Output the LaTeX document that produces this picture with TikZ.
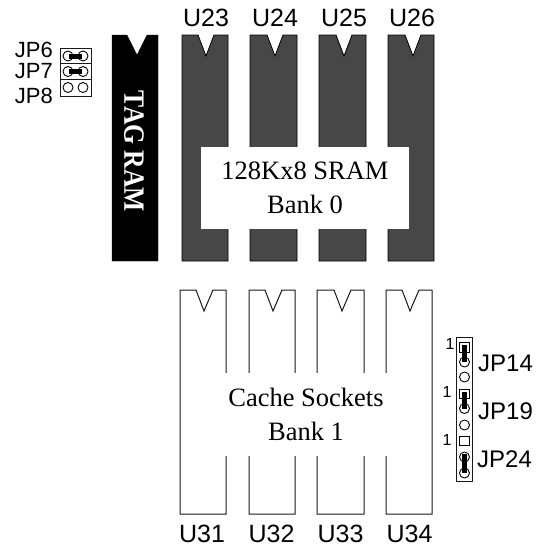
\documentclass[tikz,border=0pt]{standalone}
\usepackage{fontspec}
\setmainfont{Liberation Serif}
\setsansfont{Liberation Sans}
\usepackage{tikz}

\begin{document}
\begin{tikzpicture}[
    x=1pt, y=-1pt,
    blackchip/.style={draw=black, fill=black},
    darkchip/.style={draw=black, line width=0.8pt, fill=black!72},
    whitechip/.style={draw=black!90, line width=1pt, fill=white},
    cover/.style={fill=white, inner sep=0pt, align=center, font=\fontsize{26.5}{33.5}\selectfont},
    pinlabel/.style={font=\sffamily\fontsize{25}{25}\selectfont, inner sep=0pt},
    jplabel/.style={font=\sffamily\fontsize{22}{22}\selectfont, inner sep=0pt},
    onelabel/.style={font=\sffamily\fontsize{16}{16}\selectfont, inner sep=0pt},
    header/.style={draw=black!90, line width=0.8pt, fill=white},
    pin/.style={draw=black, line width=0.9pt, fill=white},
    shunt/.style={draw=black, line width=5pt}
]
    \useasboundingbox (0,0) rectangle (536,550);

    % Top: SRAM bank 0 and tag ram
    \draw[blackchip] (112,35) -- (127,35) -- (137,55) -- (147,35) -- (158,35) -- (158,261) -- (112,261) -- cycle;
    \draw[darkchip] (182,35) -- (198,35) -- (206,56) -- (214,35) -- (228,35) -- (228,261) -- (182,261) -- cycle;
    \draw[darkchip] (250,35) -- (267,35) -- (275,56) -- (283,35) -- (297,35) -- (297,261) -- (250,261) -- cycle;
    \draw[darkchip] (319,35) -- (336,35) -- (344,56) -- (352,35) -- (366,35) -- (366,261) -- (319,261) -- cycle;
    \draw[darkchip] (388,35) -- (405,35) -- (413,56) -- (421,35) -- (434,35) -- (434,261) -- (388,261) -- cycle;

    \node[cover, minimum width=208pt, minimum height=82pt] (bank_zero) at (305,188) {128Kx8 SRAM\\Bank 0};
    \node[rotate=-90, yscale=1.15, text=white, font=\bfseries\fontsize{25.6}{26}\selectfont, inner sep=0pt] (tag_ram) at (134,151.5) {TAG RAM};

    \node[pinlabel] (u23) at (206,18) {U23};
    \node[pinlabel] (u24) at (275,18) {U24};
    \node[pinlabel] (u25) at (344,18) {U25};
    \node[pinlabel] (u26) at (412,18) {U26};

    % Bottom: cache sockets bank 1
    \draw[whitechip] (180,290) -- (196,290) -- (204,311) -- (213,290) -- (226,290) -- (226,514) -- (180,514) -- cycle;
    \draw[whitechip] (249,290) -- (265,290) -- (273,311) -- (282,290) -- (295,290) -- (295,514) -- (249,514) -- cycle;
    \draw[whitechip] (317,290) -- (334,290) -- (342,311) -- (351,290) -- (364,290) -- (364,514) -- (317,514) -- cycle;
    \draw[whitechip] (386,290) -- (402,290) -- (410,311) -- (419,290) -- (432,290) -- (432,514) -- (386,514) -- cycle;

    \node[cover, minimum width=240pt, minimum height=83pt] (bank_one) at (306,414.5) {Cache Sockets\\Bank 1};

    \node[pinlabel] (u31) at (202,534) {U31};
    \node[pinlabel] (u32) at (271.5,534) {U32};
    \node[pinlabel] (u33) at (340.5,534) {U33};
    \node[pinlabel] (u34) at (409.5,534) {U34};

    % Left jumpers
    \node[jplabel, anchor=east] (jp6) at (53,50) {JP6};
    \node[jplabel, anchor=east] (jp7) at (53,71.5) {JP7};
    \node[jplabel, anchor=east] (jp8) at (53,95.5) {JP8};

    \draw[header] (60,48) rectangle (91,96);
    \draw[header] (60,63.5) -- (91,63.5);
    \draw[header] (60,79.5) -- (91,79.5);
    \draw[pin] (68,56) circle (5);
    \draw[pin] (83,56) circle (5);
    \draw[pin] (68,71.5) circle (5);
    \draw[pin] (83,71.5) circle (5);
    \draw[pin] (68,87.5) circle (5);
    \draw[pin] (83,87.5) circle (5);
    \draw[shunt] (69,56) -- (82,56);
    \draw[shunt] (69,71.5) -- (82,71.5);

    % Right jumpers
    \node[onelabel] (one_a) at (450,344) {1};
    \node[onelabel] (one_b) at (447,392) {1};
    \node[onelabel] (one_c) at (447,440) {1};
    \node[pinlabel, font=\sffamily\fontsize{24}{24}\selectfont, anchor=west] (jp14) at (478,363.5) {JP14};
    \node[pinlabel, font=\sffamily\fontsize{24}{24}\selectfont, anchor=west] (jp19) at (478,411) {JP19};
    \node[pinlabel, font=\sffamily\fontsize{24}{24}\selectfont, anchor=west] (jp24) at (477,459) {JP24};

    \draw[header] (456,337) rectangle (472,481);
    \draw[pin] (459,342) rectangle (469,352);
    \draw[pin] (464.5,362) circle (5);
    \draw[pin] (464.5,377) circle (5);
    \draw[pin] (459,389) rectangle (469,398.5);
    \draw[pin] (464.5,408.5) circle (5);
    \draw[pin] (464.5,425) circle (5);
    \draw[pin] (459,436) rectangle (469,445.5);
    \draw[pin] (464.5,457) circle (5);
    \draw[pin] (464.5,473) circle (5);
    \draw[shunt] (464.5,345) -- (464.5,362);
    \draw[shunt] (464.5,392) -- (464.5,409);
    \draw[shunt] (464.5,454) -- (464.5,473);

\end{tikzpicture}
\end{document}
